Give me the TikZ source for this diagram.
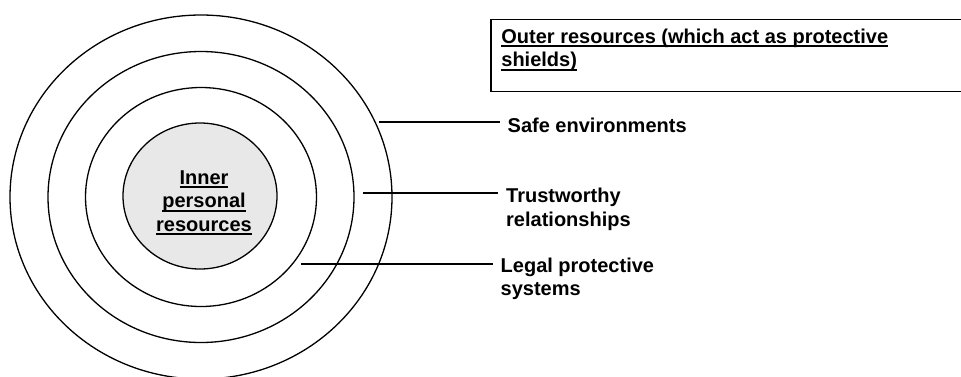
\documentclass[tikz,border=0pt]{standalone}
\usepackage{fontspec}
\setmainfont{Liberation Sans}
\usetikzlibrary{shapes.geometric}
\definecolor{corefill}{RGB}{232,232,232}
\newcommand{\ulbar}[1]{\setbox0\hbox{#1}\rlap{\rule[-3.8pt]{\wd0}{1.8pt}}\box0}
\tikzset{
	ring/.style={draw, ellipse, line width=1.3pt, inner sep=0pt},
	lbl/.style={font=\fontsize{20}{23.5}\selectfont\bfseries, align=left, inner xsep=8pt, inner ysep=0pt, anchor=base west},
	lead/.style={line width=1.3pt}
}
\begin{document}
\begin{tikzpicture}[x=1pt,y=-1pt]
	\useasboundingbox (0,0) rectangle (961,376);
	\clip (0,0) rectangle (961,376);
	% rings
	\node[ring, minimum width=382, minimum height=364] (ring4) at (201,197) {};
	\node[ring, minimum width=306, minimum height=291] (ring3) at (201,197) {};
	\node[ring, minimum width=231, minimum height=219] (ring2) at (201,197) {};
	\node[ring, fill=corefill, minimum width=154, minimum height=146] (core) at (200,196) {};
	\node[lbl, align=center, anchor=center, inner xsep=0pt] (coretxt) at (204,203) {\ulbar{Inner}\\\ulbar{personal}\\\ulbar{resources}};
	% outer resources box, runs off the right edge
	\node[minimum width=600, minimum height=71.4, anchor=north west, inner sep=0pt] (shield) at (491,19.3) {};
	\draw[line width=1.2pt] (shield.north east) -- (shield.north west) -- (shield.south west) -- (shield.south east);
	\node[lbl, inner xsep=0pt] (shieldtxt) at (501.2,66.7) {\ulbar{Outer resources (which act as protective}\\\ulbar{shields)}};
	% labels (base = last line)
	\node[lbl] (safe) at (499.5,132.3) {Safe environments};
	\node[lbl] (trust) at (498,226) {Trustworthy\\relationships};
	\node[lbl] (legal) at (492.5,295.5) {Legal protective\\systems};
	\coordinate (c1) at (379,122);
	\coordinate (c2) at (363,193);
	\coordinate (c3) at (301,264);
	\draw[lead] (c1) -- (c1 -| safe.west);
	\draw[lead] (c2) -- (c2 -| trust.west);
	\draw[lead] (c3) -- (c3 -| legal.west);
\end{tikzpicture}
\end{document}
